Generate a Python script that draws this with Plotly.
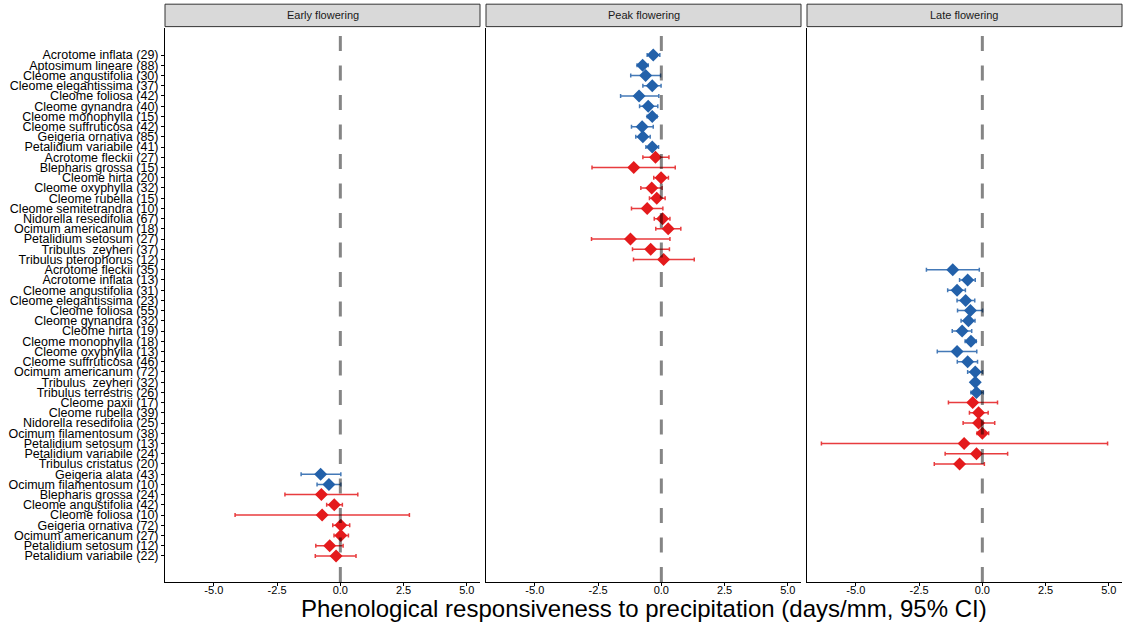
import plotly.graph_objects as go
from plotly.subplots import make_subplots

# Species labels (n observations), top to bottom
species = [
    "Acrotome inflata (29)", "Aptosimum lineare (88)", "Cleome angustifolia (30)",
    "Cleome elegantissima (37)", "Cleome foliosa (42)", "Cleome gynandra (40)",
    "Cleome monophylla (15)", "Cleome suffruticosa (42)", "Geigeria ornativa (85)",
    "Petalidium variabile (41)", "Acrotome fleckii (27)", "Blepharis grossa (15)",
    "Cleome hirta (20)", "Cleome oxyphylla (32)", "Cleome rubella (15)",
    "Cleome semitetrandra (10)", "Nidorella resedifolia (67)", "Ocimum americanum (18)",
    "Petalidium setosum (27)", "Tribulus  zeyheri (37)", "Tribulus pterophorus (12)",
    "Acrotome fleckii (35)", "Acrotome inflata (13)", "Cleome angustifolia (31)",
    "Cleome elegantissima (23)", "Cleome foliosa (55)", "Cleome gynandra (32)",
    "Cleome hirta (19)", "Cleome monophylla (18)", "Cleome oxyphylla (13)",
    "Cleome suffruticosa (46)", "Ocimum americanum (72)", "Tribulus  zeyheri (32)",
    "Tribulus terrestris (26)", "Cleome paxii (17)", "Cleome rubella (39)",
    "Nidorella resedifolia (25)", "Ocimum filamentosum (38)", "Petalidium setosum (13)",
    "Petalidium variabile (24)", "Tribulus cristatus (20)", "Geigeria alata (43)",
    "Ocimum filamentosum (10)", "Blepharis grossa (24)", "Cleome angustifolia (42)",
    "Cleome foliosa (10)", "Geigeria ornativa (72)", "Ocimum americanum (27)",
    "Petalidium setosum (12)", "Petalidium variabile (22)",
]

# Flowering stage each estimate belongs to
stage = (
    ["Peak flowering"] * 21
    + ["Late flowering"] * 20
    + ["Early flowering"] * 9
)

# Responsiveness estimate (days/mm) with 95% CI bounds
estimate = [
    -0.32, -0.74, -0.62, -0.36, -0.88, -0.52, -0.36, -0.76, -0.73, -0.36,
    -0.23, -1.09, -0.01, -0.38, -0.18, -0.56, 0.05, 0.27, -1.22, -0.42, 0.09,
    -1.17, -0.58, -1.00, -0.66, -0.47, -0.55, -0.80, -0.45, -1.00, -0.58,
    -0.28, -0.28, -0.23, -0.38, -0.15, -0.15, 0.00, -0.72, -0.23, -0.90,
    -0.78, -0.45, -0.75, -0.24, -0.72, 0.02, 0.02, -0.42, -0.17,
]
ci_low = [
    -0.56, -0.96, -1.21, -0.73, -1.61, -0.86, -0.56, -1.18, -1.01, -0.61,
    -0.73, -2.74, -0.30, -0.81, -0.47, -1.18, -0.28, -0.22, -2.76, -1.14, -1.10,
    -2.21, -0.90, -1.37, -1.00, -0.98, -0.84, -1.19, -0.68, -1.78, -0.99,
    -0.58, -0.42, -0.45, -1.34, -0.51, -0.76, -0.21, -6.36, -1.47, -1.90,
    -1.55, -0.92, -2.19, -0.54, -4.16, -0.30, -0.25, -0.97, -0.99,
]
ci_high = [
    -0.06, -0.52, -0.03, -0.01, -0.10, -0.14, -0.17, -0.32, -0.44, -0.11,
    0.30, 0.55, 0.28, 0.03, 0.15, 0.06, 0.34, 0.77, 0.34, 0.32, 1.30,
    -0.12, -0.28, -0.67, -0.30, 0.01, -0.29, -0.42, -0.24, -0.22, -0.19,
    0.01, -0.14, 0.04, 0.60, 0.23, 0.49, 0.25, 4.95, 1.00, 0.08,
    0.02, 0.02, 0.69, 0.08, 2.73, 0.37, 0.32, 0.11, 0.62,
]
# Significant responses are shown in blue, the rest in red
significant = (
    [True] * 10 + [False] * 11
    + [True] * 13 + [False] * 7
    + [True] * 2 + [False] * 7
)

panels = ["Early flowering", "Peak flowering", "Late flowering"]
x_ticks = [-5.0, -2.5, 0.0, 2.5, 5.0]
x_tick_labels = ["-5.0", "-2.5", "0.0", "2.5", "5.0"]

BLUE = "#2361AA"
RED = "#E41A1C"
FONT = "Liberation Sans, Arial, sans-serif"

fig = make_subplots(rows=1, cols=3, shared_yaxes=True,
                    horizontal_spacing=6 / 957)

for col, panel in enumerate(panels, start=1):
    for sig, colour, bar_colour in [(True, BLUE, "rgba(35,97,170,0.85)"),
                                    (False, RED, "rgba(228,26,28,0.85)")]:
        idx = [i for i in range(len(species))
               if stage[i] == panel and significant[i] == sig]
        if not idx:
            continue
        fig.add_trace(go.Scatter(
            x=[estimate[i] for i in idx],
            y=[species[i] for i in idx],
            mode="markers",
            marker=dict(symbol="diamond", size=10, color=colour, line=dict(width=0)),
            error_x=dict(
                type="data", symmetric=False,
                array=[ci_high[i] - estimate[i] for i in idx],
                arrayminus=[estimate[i] - ci_low[i] for i in idx],
                color=bar_colour, thickness=1.5, width=2,
            ),
            showlegend=False,
            hoverinfo="skip",
        ), row=1, col=col)

    # zero reference line, drawn bottom-up over the points
    xref = "x" if col == 1 else f"x{col}"
    yref = "y" if col == 1 else f"y{col}"
    fig.add_shape(type="line", xref=xref, yref=f"{yref} domain",
                  x0=0, x1=0, y0=0, y1=1, layer="above",
                  line=dict(color="rgba(0,0,0,0.48)", width=3, dash="15px,14.5px"))

    # facet strip
    dom = f"{xref} domain"
    fig.add_shape(type="rect", xref=dom, yref="paper", x0=0, x1=1,
                  y0=1.0025, y1=1.043, layer="above",
                  fillcolor="#D9D9D9", line=dict(color="#333333", width=1))
    fig.add_annotation(xref=dom, yref="paper", x=0.5, y=1.0228,
                       text=panel, showarrow=False, xanchor="center",
                       yanchor="middle",
                       font=dict(family=FONT, size=11, color="#1A1A1A"))

fig.update_xaxes(
    range=[-6.93, 5.52], tickmode="array", tickvals=x_ticks, ticktext=x_tick_labels,
    showgrid=False, zeroline=False, showline=True, linecolor="black",
    linewidth=1, ticks="outside", ticklen=3, tickcolor="black", tickwidth=1,
    ticklabelstandoff=-5,
    tickfont=dict(family=FONT, size=11, color="black"),
)
fig.update_yaxes(
    type="category", categoryorder="array", categoryarray=species,
    range=[51.55, -2.65], showgrid=False, zeroline=False, showline=True,
    linecolor="black", linewidth=1,
)
fig.update_yaxes(ticks="outside", ticklen=3, tickcolor="black", tickwidth=1,
                 tickmode="linear", tick0=0, dtick=1,
                 tickfont=dict(family=FONT, size=12.5, color="black"),
                 row=1, col=1)
fig.update_yaxes(ticks="", showticklabels=False, row=1, col=2)
fig.update_yaxes(ticks="", showticklabels=False, row=1, col=3)

fig.add_annotation(
    xref="paper", yref="paper", x=0.5, y=-0.047,
    text="Phenological responsiveness to precipitation (days/mm, 95% CI)",
    showarrow=False, xanchor="center", yanchor="middle",
    font=dict(family=FONT, size=24, color="black"),
)

fig.update_layout(
    width=1125, height=630,
    margin=dict(l=165, r=3, t=28, b=48),
    plot_bgcolor="white", paper_bgcolor="white",
    font=dict(family=FONT, color="black"),
)

fig.write_html("out.html")
